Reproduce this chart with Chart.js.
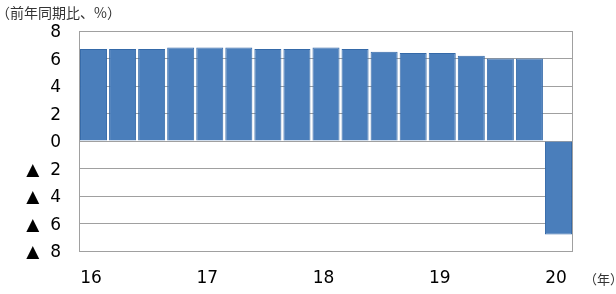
<!DOCTYPE html>
<html>
<head>
<meta charset="utf-8">
<script src="https://cdn.jsdelivr.net/npm/chart.js@4/dist/chart.umd.min.js"></script>
<style>
  html, body { margin: 0; padding: 0; background: #fff; }
  #wrap { width: 616px; height: 294px; position: relative; }
</style>
</head>
<body>
<div id="wrap"><canvas id="myChart" width="616" height="294"></canvas></div>
<script>
// Quarterly data, 2016 Q1 - 2020 Q1
const categories = ['16', '', '', '', '17', '', '', '', '18', '', '', '', '19', '', '', '', '20'];
const growthValues = [6.7, 6.7, 6.7, 6.8, 6.8, 6.8, 6.7, 6.7, 6.8, 6.7, 6.5, 6.4, 6.4, 6.2, 6.0, 6.0, -6.8];
const yTicks = [-8, -6, -4, -2, 0, 2, 4, 6, 8];
const unitLabel = '（前年同期比、%）';
const yearLabel = '（年）';

// Frame and the two caption texts
const framePlugin = {
    id: 'frame',
    afterDraw(chart) {
        const ctx = chart.ctx;
        const a = chart.chartArea;
        ctx.save();
        ctx.strokeStyle = '#a0a0a0';
        ctx.lineWidth = 1;
        ctx.strokeRect(a.left + 0.5, a.top + 0.5, a.right - a.left - 1, a.bottom - a.top);
        ctx.fillStyle = '#333';
        ctx.font = '14px "Noto Sans CJK JP"';
        ctx.textBaseline = 'middle';
        ctx.fillText(unitLabel, -4, 13);
        ctx.font = '13px "Noto Sans CJK JP"';
        ctx.fillText(yearLabel, 584, 279);
        ctx.restore();
    }
};

function createChart() {
    const ctx = document.getElementById('myChart');
    new Chart(ctx, {
        type: 'bar',
        data: {
            labels: categories,
            datasets: [{
                data: growthValues,
                backgroundColor: '#4a7ebb',
                borderColor: '#3469a8',
                borderWidth: 1,
                barPercentage: 0.93,
                categoryPercentage: 1.0
            }]
        },
        options: {
            responsive: false,
            animation: false,
            layout: { padding: { left: 0, top: 31, right: 43, bottom: 0 } },
            plugins: {
                legend: { display: false },
                tooltip: { enabled: false }
            },
            scales: {
                x: {
                    grid: { display: false, drawTicks: false },
                    border: { display: false },
                    ticks: {
                        autoSkip: false,
                        maxRotation: 0,
                        padding: 17,
                        labelOffset: -2.5,
                        color: '#000',
                        font: { family: 'DejaVu Sans', size: 17 }
                    },
                    afterFit(scale) { scale.height = 43; }
                },
                y: {
                    min: yTicks[0],
                    max: yTicks[yTicks.length - 1],
                    afterBuildTicks(scale) {
                        scale.ticks = yTicks.map(v => ({ value: v }));
                    },
                    grid: { color: '#a0a0a0', drawTicks: false, lineWidth: 1 },
                    border: { display: true, color: '#a0a0a0' },
                    ticks: {
                        padding: 18,
                        labelOffset: 2,
                        color: '#000',
                        font: { family: 'DejaVu Sans', size: 17 },
                        callback: v => v < 0 ? '▲  ' + (-v) : String(v)
                    },
                    afterFit(scale) { scale.width = 79; }
                }
            }
        },
        plugins: [framePlugin]
    });
}

document.addEventListener('DOMContentLoaded', function () {
    createChart();
});
</script>
</body>
</html>
